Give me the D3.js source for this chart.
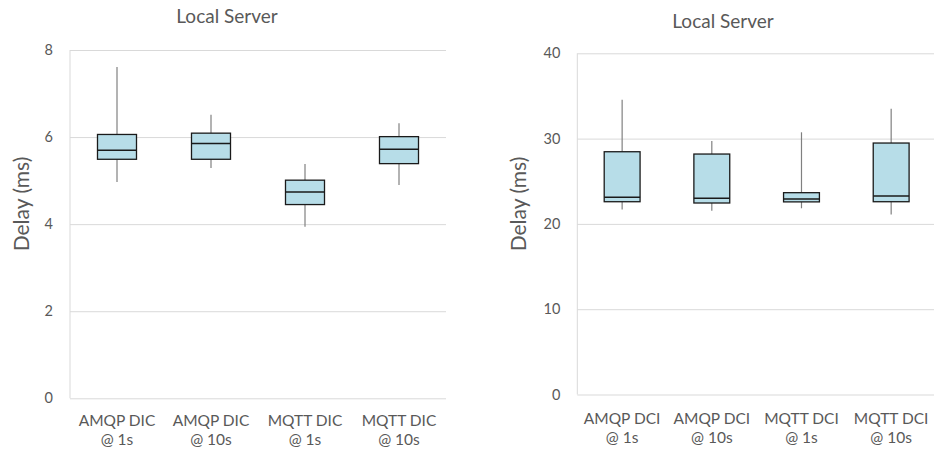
<!DOCTYPE html>
<html>
<head>
<meta charset="utf-8">
<script src="https://cdn.jsdelivr.net/npm/d3@7/dist/d3.min.js"></script>
<style>
  html, body { margin: 0; padding: 0; background: #fff; }
  svg { display: block; font-family: Lato, "Open Sans", sans-serif; }
</style>
</head>
<body>
<svg id="chart" width="934" height="459"></svg>
<script>
// Direct-to-server (DIC) delay box statistics, ms
const dicCategories = ["AMQP DIC @ 1s", "AMQP DIC @ 10s", "MQTT DIC @ 1s", "MQTT DIC @ 10s"];
const dicMin    = [4.97, 5.29, 3.94, 4.90];
const dicQ1     = [5.49, 5.49, 4.45, 5.39];
const dicMedian = [5.70, 5.85, 4.74, 5.72];
const dicQ3     = [6.06, 6.09, 5.01, 6.01];
const dicMax    = [7.61, 6.51, 5.38, 6.32];
const dicTicks  = [0, 2, 4, 6, 8];

// DCI delay box statistics, ms
const dciCategories = ["AMQP DCI @ 1s", "AMQP DCI @ 10s", "MQTT DCI @ 1s", "MQTT DCI @ 10s"];
const dciMin    = [21.70, 21.55, 21.83, 21.10];
const dciQ1     = [22.60, 22.45, 22.58, 22.60];
const dciMedian = [23.12, 23.00, 22.92, 23.27];
const dciQ3     = [28.46, 28.19, 23.66, 29.48];
const dciMax    = [34.56, 29.72, 30.74, 33.50];
const dciTicks  = [0, 10, 20, 30, 40];

const titleText = "Local Server";
const yLabelText = "Delay (ms)";

const svg = d3.select("#chart");
const textColor = "#595959";
const gridColor = "#d9d9d9";

function drawPanel(p) {
  const g = svg.append("g");
  const rows = p.categories.map((c, i) => ({
    cat: c, min: p.min[i], q1: p.q1[i], median: p.median[i], q3: p.q3[i], max: p.max[i]
  }));

  const x = d3.scaleBand().domain(p.categories)
    .range([p.left, p.right]).paddingInner(p.pad).paddingOuter(p.pad / 2);
  const y = d3.scaleLinear().domain([p.ticks[0], p.ticks[p.ticks.length - 1]])
    .range([p.bottom, p.top]);

  // gridlines + tick labels
  const axis = g.append("g").attr("transform", `translate(${p.left},0)`)
    .call(d3.axisLeft(y).tickValues(p.ticks).tickSize(-(p.right - p.left)).tickPadding(17));
  axis.select(".domain").remove();
  axis.selectAll(".tick line").attr("stroke", gridColor).attr("stroke-width", 1);
  axis.selectAll(".tick text").attr("fill", textColor)
    .style("font-size", "14.5px").style("font-family", "Lato, sans-serif");

  // vertical axis line
  g.append("line").attr("x1", p.left).attr("x2", p.left)
    .attr("y1", y.range()[1]).attr("y2", y.range()[0])
    .attr("stroke", gridColor).attr("stroke-width", 1);

  const box = g.append("g").selectAll("g").data(rows).join("g")
    .attr("transform", d => `translate(${x(d.cat)},0)`);
  const bw = x.bandwidth();

  // whiskers
  box.append("line").attr("x1", bw / 2).attr("x2", bw / 2)
    .attr("y1", d => y(d.max)).attr("y2", d => y(d.q3))
    .attr("stroke", "#808080").attr("stroke-width", 1.2);
  box.append("line").attr("x1", bw / 2).attr("x2", bw / 2)
    .attr("y1", d => y(d.q1)).attr("y2", d => y(d.min))
    .attr("stroke", "#808080").attr("stroke-width", 1.2);

  // boxes
  box.append("rect").attr("x", 0).attr("width", bw)
    .attr("y", d => y(d.q3)).attr("height", d => y(d.q1) - y(d.q3))
    .attr("fill", "#b7dde8").attr("stroke", "#1a1a1a").attr("stroke-width", 1.3);

  // medians
  box.append("line").attr("x1", 0).attr("x2", bw)
    .attr("y1", d => y(d.median)).attr("y2", d => y(d.median))
    .attr("stroke", "#1a1a1a").attr("stroke-width", 1.5);

  // category labels on two lines
  const lab = g.append("g").selectAll("text").data(p.categories).join("text")
    .attr("text-anchor", "middle").attr("fill", textColor)
    .style("font-size", "15.5px");
  lab.each(function (c) {
    const parts = c.split(" @ ");
    const t = d3.select(this);
    const cx = x(c) + bw / 2;
    t.append("tspan").attr("x", cx).attr("y", p.catY).text(parts[0]);
    t.append("tspan").attr("x", cx).attr("y", p.catY + 19).text("@ " + parts[1]);
  });

  // title
  g.append("text").attr("x", p.titleX).attr("y", p.titleY)
    .attr("text-anchor", "middle").attr("fill", textColor)
    .style("font-size", "19px").text(titleText);

  // y-axis label
  g.append("text")
    .attr("transform", `translate(${p.yLabelX},${p.yLabelY}) rotate(-90)`)
    .attr("text-anchor", "middle").attr("fill", textColor)
    .style("font-size", "21px").text(yLabelText);
}

drawPanel({
  categories: dicCategories, min: dicMin, q1: dicQ1, median: dicMedian, q3: dicQ3, max: dicMax,
  ticks: dicTicks, left: 70, right: 446, top: 50, bottom: 398.3, pad: 0.585,
  catY: 426, titleX: 227, titleY: 23, yLabelX: 28.5, yLabelY: 204
});

drawPanel({
  categories: dciCategories, min: dciMin, q1: dciQ1, median: dciMedian, q3: dciQ3, max: dciMax,
  ticks: dciTicks, left: 577.3, right: 936, top: 53.3, bottom: 394.5, pad: 0.6,
  catY: 424, titleX: 723, titleY: 28, yLabelX: 526, yLabelY: 204
});
</script>
</body>
</html>
